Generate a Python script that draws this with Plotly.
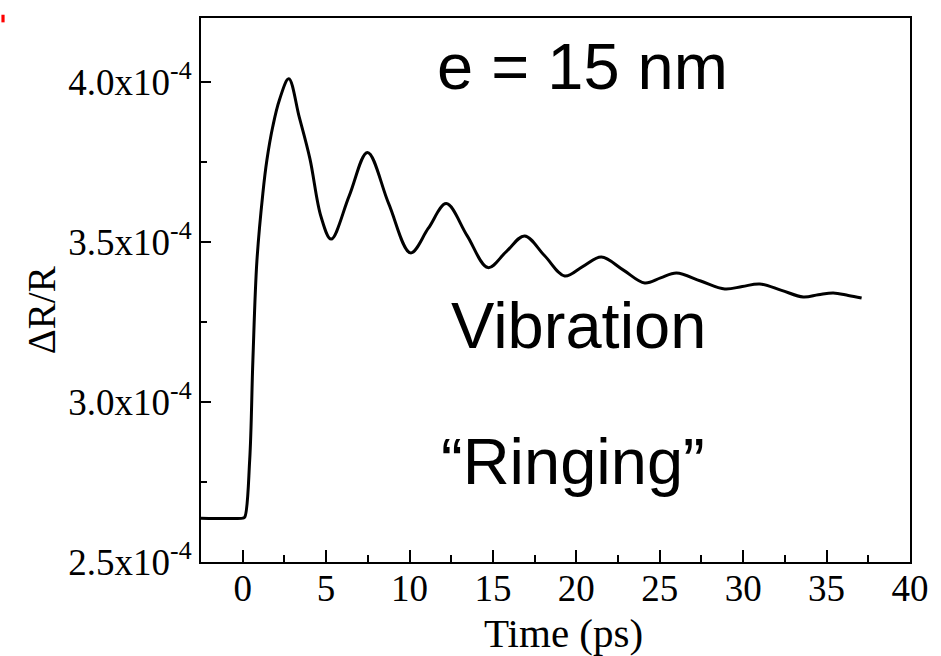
import plotly.graph_objects as go

# Time (ps)
time_ps = [-2.5, -1.0, 0.0, 0.12, 0.42, 0.61, 0.85, 1.21, 1.45, 1.8, 2.2, 2.76,
           3.39, 4.03, 4.7, 5.3, 6.39, 7.48, 8.75, 10.06, 11.13, 12.2, 13.45, 14.7,
           15.8, 16.9, 18.1, 19.3, 20.4, 21.5, 22.8, 24.1, 25.05, 26.0, 27.45, 28.9,
           29.95, 31.0, 32.3, 33.6, 34.5, 35.4, 36.3, 37.1]
# dR/R in units of 1e-4
dr_r = [2.637, 2.636, 2.637, 2.64, 2.82, 3.13, 3.44, 3.653, 3.756, 3.86, 3.944, 4.01,
        3.89, 3.76, 3.578, 3.509, 3.645, 3.78, 3.62, 3.466, 3.543, 3.62, 3.52, 3.42,
        3.47, 3.519, 3.457, 3.394, 3.424, 3.453, 3.413, 3.372, 3.388, 3.403, 3.378, 3.353,
        3.361, 3.369, 3.349, 3.328, 3.335, 3.341, 3.333, 3.325]

y_tickvals = [2.5, 3.0, 3.5, 4.0]
y_ticktext = ["2.5x10<sup>-4</sup>", "3.0x10<sup>-4</sup>", "3.5x10<sup>-4</sup>", "4.0x10<sup>-4</sup>"]
x_tickvals = [0, 5, 10, 15, 20, 25, 30, 35, 40]

fig = go.Figure()
fig.add_trace(go.Scatter(x=time_ps, y=dr_r, mode="lines",
                         line=dict(color="black", width=3, shape="spline", smoothing=1.0),
                         showlegend=False, hoverinfo="skip"))

serif = "Liberation Serif, Times New Roman, serif"
sans = "Liberation Sans, Arial, sans-serif"

fig.update_layout(
    width=941, height=656,
    margin=dict(l=201, r=26, t=18, b=94),
    paper_bgcolor="white", plot_bgcolor="white",
    xaxis=dict(range=[-2.5, 40], tickvals=x_tickvals, ticks="inside", ticklen=12, tickwidth=2,
               tickcolor="black", showline=True, linewidth=2, linecolor="black", mirror=True,
               showgrid=False, zeroline=False, ticklabelstandoff=-7,
               minor=dict(dtick=2.5, tick0=0, ticks="inside", ticklen=7, tickwidth=2, tickcolor="black"),
               tickfont=dict(family=serif, size=37, color="black")),
    yaxis=dict(range=[2.5, 4.2], tickvals=y_tickvals, ticktext=y_ticktext, ticks="inside",
               ticklen=10, tickwidth=2, tickcolor="black", showline=True, linewidth=2,
               linecolor="black", mirror=True, showgrid=False, zeroline=False,
               minor=dict(dtick=0.25, tick0=2.5, ticks="inside", ticklen=6, tickwidth=2, tickcolor="black"),
               tickfont=dict(family=serif, size=37, color="black")),
)

# axis titles
fig.add_annotation(x=0.511, y=-0.131, xref="paper", yref="paper", text="Time (ps)", showarrow=False,
                   font=dict(family=serif, size=41, color="black"), xanchor="center", yanchor="middle")
fig.add_annotation(x=-0.2255, y=0.463, xref="paper", yref="paper", text="ΔR/R", showarrow=False,
                   textangle=-90, font=dict(family=serif, size=39, color="black"),
                   xanchor="center", yanchor="middle")

fig.add_annotation(x=20.36, y=4.05, xref="x", yref="y", text="e = 15 nm", showarrow=False,
                   font=dict(family=sans, size=65, color="black"), xanchor="center", yanchor="middle")
fig.add_annotation(x=20.1, y=3.238, xref="x", yref="y", text="Vibration", showarrow=False,
                   font=dict(family=sans, size=65, color="black"), xanchor="center", yanchor="middle")
fig.add_annotation(x=19.8, y=2.814, xref="x", yref="y", text="“Ringing”", showarrow=False,
                   font=dict(family=sans, size=65, color="black"), xanchor="center", yanchor="middle")

# small red mark at top-left corner of the slide
fig.add_shape(type="rect", xref="paper", yref="paper", x0=-0.2815, x1=-0.277, y0=0.992, y1=1.006,
              fillcolor="red", line=dict(width=0))

fig.write_html("out.html")
